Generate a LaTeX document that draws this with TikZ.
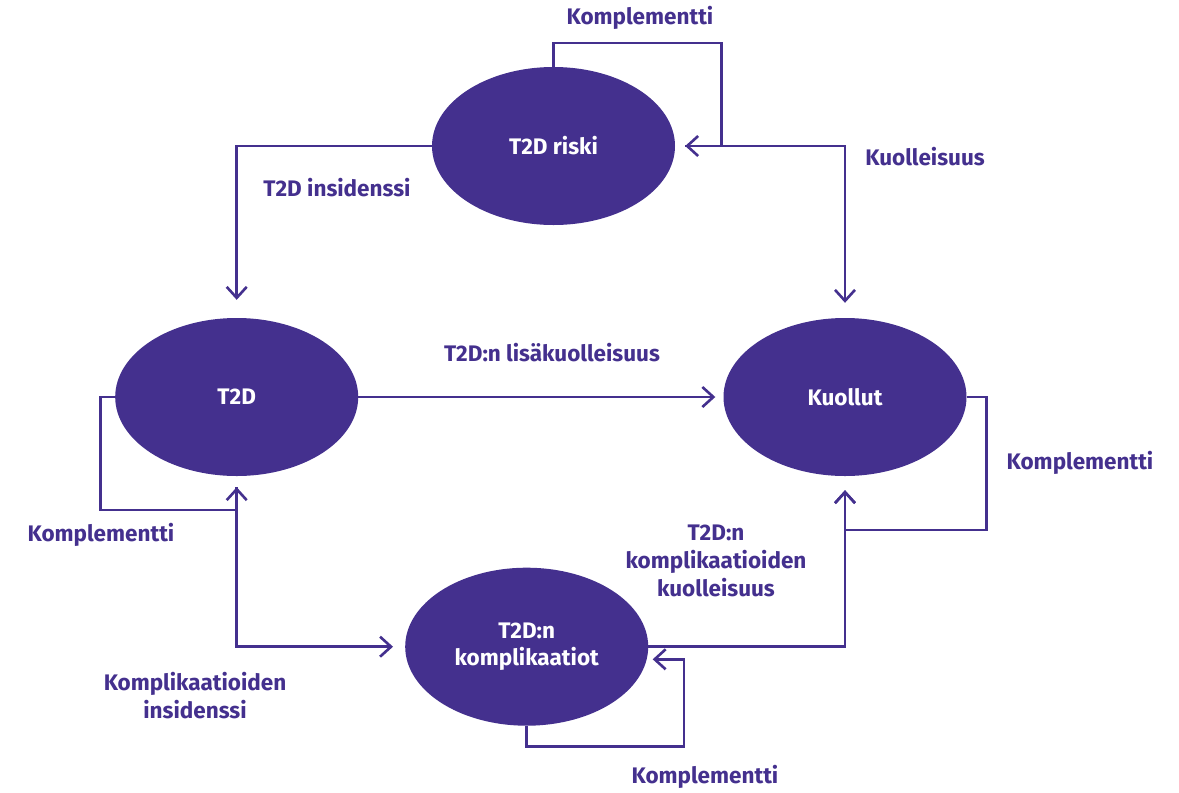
\documentclass[tikz,border=0pt]{standalone}
\usepackage{fontspec}
\setmainfont{Fira Sans}
\usetikzlibrary{shapes.geometric,arrows.meta}
\definecolor{pp}{RGB}{68,48,142}
\tikzset{
  state/.style={ellipse, fill=pp, draw=none, minimum width=243pt, minimum height=158pt, inner sep=0pt,
    text=white, font=\fontsize{22.5}{27}\selectfont\bfseries, align=center},
  lbl/.style={text=pp, font=\fontsize{22.5}{28}\selectfont\bfseries, align=center, inner sep=0pt},
  con/.style={draw=pp, line width=2.6pt},
  arr/.style={con, -{Straight Barb[length=11pt,width=20pt]}}
}
\begin{document}
\begin{tikzpicture}[x=1pt,y=-1pt]
\useasboundingbox[fill=white] (0,0) rectangle (1179,793);
% states
\node[state] (riski) at (553.5,146) {T2D riski};
\node[state] (t2d) at (236.7,397) {T2D};
\node[state] (kuollut) at (845,397) {Kuollut};
\node[state] (kompl) at (526.7,646.7) {T2D:n\\komplikaatiot};
% helper coordinates
\coordinate (rloop) at (721.7,43);
\coordinate (tloop) at (100.7,510);
\coordinate (kuloop) at (986.7,530);
\coordinate (kloop) at (684,746.7);
\coordinate (kin) at (652.7,659.3);
% connectors
\draw[arr, shorten >=18pt] (riski.west) -| (t2d.north);
\draw[arr, shorten >=10pt] (riski.north) |- (rloop) |- (riski.east);
\draw[arr, shorten <=10pt, shorten >=15pt] (riski.east) -| (kuollut.north);
\draw[arr, shorten >=8pt] (t2d.east) -- (kuollut.west);
\draw[arr, shorten >=11pt] (t2d.west) -| (tloop) -| (t2d.south);
\draw[arr, shorten <=11pt, shorten >=12pt] (t2d.south) |- (kompl.west);
\draw[arr] (kompl.south) |- (kloop) |- (kin);
\draw[arr, shorten >=14pt] (kompl.east) -| (kuollut.south);
\draw[arr, shorten >=14pt] (kuollut.east) -| (kuloop) -| (kuollut.south);
% labels
\node[lbl] (l1) at (640,18) {Komplementti};
\node[lbl] (l2) at (337,188) {T2D insidenssi};
\node[lbl] (l3) at (925,157) {Kuolleisuus};
\node[lbl] (l4) at (552,353) {T2D:n lisäkuolleisuus};
\node[lbl] (l5) at (1080,463) {Komplementti};
\node[lbl] (l6) at (101,535) {Komplementti};
\node[lbl] (l7) at (195,696) {Komplikaatioiden\\insidenssi};
\node[lbl] (l8) at (716,561) {T2D:n\\komplikaatioiden\\kuolleisuus};
\node[lbl] (l9) at (705,777) {Komplementti};
\end{tikzpicture}
\end{document}
